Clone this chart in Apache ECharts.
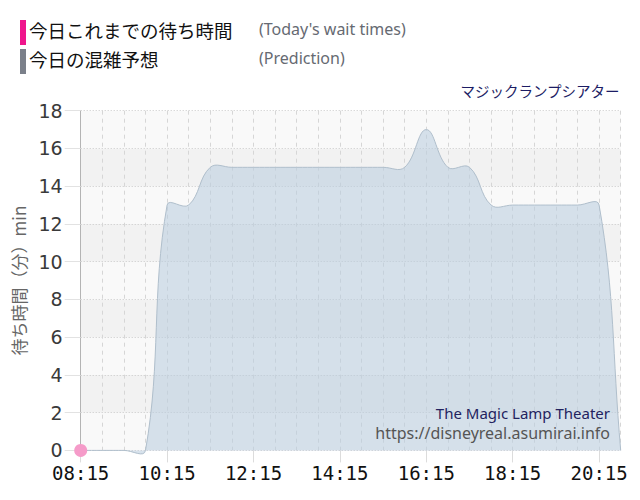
<!DOCTYPE html>
<html>
<head>
<meta charset="utf-8">
<script src="https://cdn.jsdelivr.net/npm/echarts@6/dist/echarts.min.js"></script>
<style>
html,body{margin:0;padding:0;background:#fff;}
#chart{width:640px;height:500px;}
</style>
</head>
<body>
<div id="chart"></div>
<script>
// 30-minute slots
var categories = ['08:15','08:45','09:15','09:45','10:15','10:45','11:15','11:45','12:15','12:45',
  '13:15','13:45','14:15','14:45','15:15','15:45','16:15','16:45','17:15','17:45',
  '18:15','18:45','19:15','19:45','20:15','20:45'];
var predictionValues = [0,0,0,0,13,13,15,15,15,15,15,15,15,15,15,15,17,15,15,13,13,13,13,13,13,0];
var todayValues = [0];
var yTicks = {min:0, max:18, interval:2};
var tension = 0.4;

function splinePath(pts){
  // cardinal-style spline (same scheme as tension-based line charts)
  var n = pts.length, cps = [];
  for (var i = 0; i < n; i++) {
    var prev = pts[Math.max(0, i-1)], cur = pts[i], next = pts[Math.min(n-1, i+1)];
    var d01 = Math.hypot(cur[0]-prev[0], cur[1]-prev[1]);
    var d12 = Math.hypot(next[0]-cur[0], next[1]-cur[1]);
    var s = d01 + d12;
    var s01 = s ? d01/s : 0, s12 = s ? d12/s : 0;
    var fa = tension*s01, fb = tension*s12;
    cps.push({
      p:[cur[0]-fa*(next[0]-prev[0]), cur[1]-fa*(next[1]-prev[1])],
      n:[cur[0]+fb*(next[0]-prev[0]), cur[1]+fb*(next[1]-prev[1])]
    });
  }
  var d = 'M' + pts[0][0] + ' ' + pts[0][1];
  for (var j = 1; j < n; j++) {
    var a = cps[j-1].n, b = cps[j].p, c = pts[j];
    d += ' C' + a[0] + ' ' + a[1] + ' ' + b[0] + ' ' + b[1] + ' ' + c[0] + ' ' + c[1];
  }
  return d;
}

var chart = echarts.init(document.getElementById('chart'), null, {renderer:'svg'});
var jp = '"Noto Sans CJK JP", "Noto Sans", sans-serif';
var lat = '"Noto Sans", "DejaVu Sans", sans-serif';
chart.setOption({
  animation:false,
  grid:{left:80.7, right:19.3, top:110.7, bottom:49.6, outerBoundsMode:'none', containLabel:false},
  xAxis:{
    type:'category', data:categories, boundaryGap:false,
    axisLine:{show:false},
    axisTick:{show:true, interval:3, length:12, lineStyle:{color:'#dcdcdc'}},
    axisLabel:{interval:3, margin:13, fontSize:19, color:'#111', fontFamily:'"DejaVu Sans Mono", monospace'},
    splitLine:{show:true, interval:0, lineStyle:{color:'#d6d6d6', type:[4,4], width:1}}
  },
  yAxis:{
    type:'value', min:yTicks.min, max:yTicks.max, interval:yTicks.interval,
    name:'待ち時間（分）min', nameLocation:'middle', nameGap:54, nameRotate:90,
    nameTextStyle:{fontSize:17, color:'#666', fontFamily:jp},
    axisLine:{show:true, lineStyle:{color:'#b4b4b4'}},
    axisTick:{show:true, length:16, lineStyle:{color:'#e2e2e2'}},
    axisLabel:{margin:18, fontSize:19, color:'#3a3a3a', fontFamily:'"DejaVu Sans", sans-serif'},
    splitLine:{lineStyle:{color:'#c8c8c8', type:[1,2]}},
    splitArea:{show:true, areaStyle:{color:['#f9f9f9','#f2f2f2']}}
  },
  series:[
    {
      name:'今日の混雑予想', type:'custom', z:2,
      data: predictionValues.map(function(v,i){return [i,v];}),
      encode:{x:0, y:1},
      renderItem:function(params, api){
        if (params.dataIndex !== 0) return null;
        var pts = predictionValues.map(function(v,i){ return api.coord([i, v]); });
        var line = splinePath(pts);
        var base0 = api.coord([0, 0]), base1 = api.coord([pts.length-1, 0]);
        var area = line + ' L' + base1[0] + ' ' + base1[1] + ' L' + base0[0] + ' ' + base0[1] + ' Z';
        return {
          type:'group',
          children:[
            {type:'path', shape:{pathData:area}, style:{fill:'rgba(186,205,222,0.58)', stroke:null}},
            {type:'path', shape:{pathData:line}, style:{fill:null, stroke:'#b0bfcc', lineWidth:1}}
          ]
        };
      }
    },
    {
      name:'今日これまでの待ち時間', type:'line', data:todayValues,
      symbol:'circle', symbolSize:13, showSymbol:true,
      itemStyle:{color:'#f59bc9'}, lineStyle:{color:'#f59bc9'}, z:5
    }
  ],
  graphic:[
    {type:'rect', left:20, top:20, shape:{width:6, height:25}, style:{fill:'#ef168c'}},
    {type:'rect', left:20, top:49, shape:{width:6, height:25}, style:{fill:'#7b808a'}},
    {type:'text', left:29, top:21, style:{text:'今日これまでの待ち時間', fontSize:18.5, fill:'#111', fontFamily:jp}},
    {type:'text', left:29, top:50, style:{text:'今日の混雑予想', fontSize:18.5, fill:'#111', fontFamily:jp}},
    {type:'text', left:259, top:21, style:{text:"(Today's wait times)", fontSize:16, fill:'#666a72', fontFamily:lat}},
    {type:'text', left:259, top:50, style:{text:'(Prediction)', fontSize:16, fill:'#666a72', fontFamily:lat}},
    {type:'text', right:20, top:83, style:{text:'マジックランプシアター', fontSize:14.5, fill:'#1c1c64', fontFamily:jp}},
    {type:'text', right:30, top:405, style:{text:'The Magic Lamp Theater', fontSize:15, fill:'#23235f', fontFamily:lat}, z:10},
    {type:'text', right:30, top:425, style:{text:'https://disneyreal.asumirai.info', fontSize:16, fill:'#555', fontFamily:lat}, z:10}
  ]
});
</script>
</body>
</html>
